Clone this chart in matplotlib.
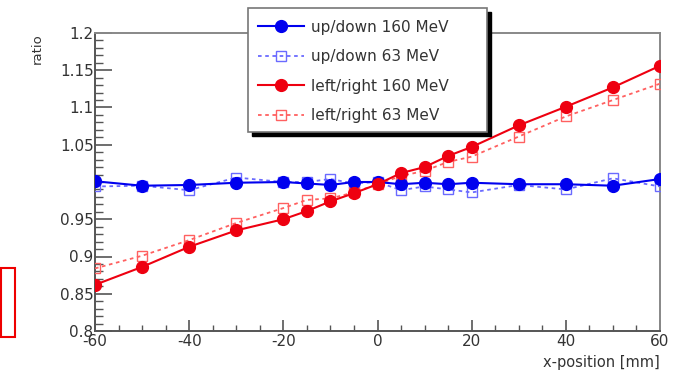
import matplotlib
matplotlib.use("Agg")
import matplotlib.pyplot as plt
from matplotlib.patches import Rectangle
from matplotlib.ticker import MultipleLocator, FixedLocator

plt.rcParams['font.family'] = ['DejaVu Sans']
plt.rcParams['axes.unicode_minus'] = False

x_pos = [-60, -50, -40, -30, -20, -15, -10, -5, 0, 5, 10, 15, 20, 30, 40, 50, 60]
updown_160 = [1.001, 0.995, 0.996, 0.999, 1.000, 0.998, 0.996, 1.000, 1.000,
              0.997, 0.999, 0.997, 0.999, 0.997, 0.997, 0.995, 1.004]
updown_63 = [0.994, 0.995, 0.989, 1.006, 1.000, 1.000, 1.004, 0.998, 1.000,
             0.989, 0.994, 0.990, 0.986, 0.996, 0.990, 1.005, 0.994]
leftright_160 = [0.862, 0.886, 0.913, 0.935, 0.950, 0.961, 0.974, 0.985, 0.997,
                 1.012, 1.020, 1.035, 1.047, 1.076, 1.101, 1.127, 1.156]
leftright_63 = [0.884, 0.901, 0.922, 0.945, 0.965, 0.976, 0.978, 0.986, 0.997,
                1.008, 1.015, 1.027, 1.034, 1.061, 1.088, 1.110, 1.132]
labels = ["up/down 160 MeV", "up/down 63 MeV", "left/right 160 MeV", "left/right 63 MeV"]
y_ticks = [0.8, 0.85, 0.9, 0.95, 1.05, 1.1, 1.15, 1.2]
y_tick_labels = ["0.8", "0.85", "0.9", "0.95", "1.05", "1.1", "1.15", "1.2"]
x_ticks = [-60, -40, -20, 0, 20, 40, 60]

W, H = 692, 370
fig = plt.figure(figsize=(W / 100, H / 100), dpi=100)
ax = fig.add_axes([95 / W, 1 - 331 / H, (660 - 95) / W, (331 - 33) / H])

blue = '#0000ee'
red = '#ee0010'
lblue = '#6a6aff'
lred = '#ff6060'

h1, = ax.plot(x_pos, updown_160, '-', color=blue, lw=1.5, marker='o', ms=8.5,
              mfc=blue, mec=blue, zorder=4)
h2, = ax.plot(x_pos, updown_63, linestyle=(0, (2, 2)), color=lblue, lw=1.3, marker='s', ms=7.5,
              mfc='none', mec=lblue, mew=1.0, zorder=3)
h3, = ax.plot(x_pos, leftright_160, '-', color=red, lw=1.5, marker='o', ms=8.5,
              mfc=red, mec=red, zorder=4)
h4, = ax.plot(x_pos, leftright_63, linestyle=(0, (2, 2)), color=lred, lw=1.3, marker='s', ms=7.5,
              mfc='none', mec=lred, mew=1.0, zorder=3)

ax.set_xlim(-60, 60)
ax.set_ylim(0.8, 1.2)

ax.xaxis.set_major_locator(FixedLocator(x_ticks))
ax.xaxis.set_minor_locator(MultipleLocator(5))
ax.yaxis.set_major_locator(FixedLocator(y_ticks))
ax.set_yticklabels(y_tick_labels)
ax.yaxis.set_minor_locator(MultipleLocator(0.01))

txtc = '#333333'
ax.tick_params(axis='both', which='both', direction='in', colors='#555555',
               labelcolor=txtc, labelsize=11)
ax.tick_params(axis='y', which='major', length=12, width=1.2, pad=1)
ax.tick_params(axis='y', which='minor', length=6, width=1.0)
ax.tick_params(axis='x', which='major', length=8, width=1.2, pad=2)
ax.tick_params(axis='x', which='minor', length=4, width=1.0)
ax.tick_params(top=False, right=False)

for s in ['left', 'bottom']:
    ax.spines[s].set_color('#555555')
    ax.spines[s].set_linewidth(1.4)
for s in ['top', 'right']:
    ax.spines[s].set_color('#888888')
    ax.spines[s].set_linewidth(1.4)

fig.text(660 / W, 1 - 362 / H, "x-position [mm]", ha='right', va='center',
         fontsize=10.5, color=txtc)
fig.text(37 / W, 1 - 49 / H, "ratio", ha='center', va='center', rotation=90,
         fontsize=9.5, color=txtc)

# legend frame with shadow
lx0, ly0, lx1, ly1 = 248, 8, 487, 132
fig.patches.append(Rectangle(((lx0 + 4) / W, 1 - (ly1 + 4) / H), (lx1 - lx0) / W, (ly1 - ly0) / H,
                             transform=fig.transFigure, facecolor='black', edgecolor='black',
                             zorder=5))
fig.patches.append(Rectangle((lx0 / W, 1 - ly1 / H), (lx1 - lx0) / W, (ly1 - ly0) / H,
                             transform=fig.transFigure, facecolor='white', edgecolor='#777777',
                             lw=1.2, zorder=6))
leg = fig.legend([h1, h2, h3, h4], labels, loc='upper left',
                 bbox_to_anchor=(247 / W, 1 - 9 / H), frameon=False, fontsize=11,
                 handlelength=3.0, handletextpad=0.5, labelspacing=0.95, borderpad=0.2,
                 labelcolor=txtc)
leg.set_zorder(7)

# red annotation box at left
fig.patches.append(Rectangle((1 / W, 1 - 337 / H), 14 / W, 69 / H, transform=fig.transFigure,
                             facecolor='none', edgecolor='#ee0000', lw=1.5, zorder=8))

fig.savefig("out.png", dpi=100)
